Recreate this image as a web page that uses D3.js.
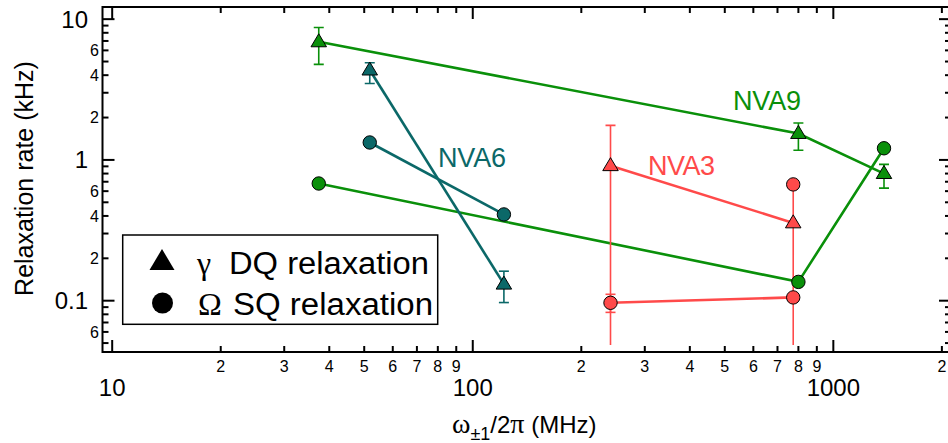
<!DOCTYPE html>
<html>
<head>
<meta charset="utf-8">
<script src="https://cdn.jsdelivr.net/npm/d3@7"></script>
<style>
  html, body { margin: 0; padding: 0; background: #fff; }
  svg { display: block; }
  text { font-family: "Liberation Sans", Arial, Helvetica, sans-serif; fill: #000; }
  .serif { font-family: "Liberation Serif", "Times New Roman", serif; }
</style>
</head>
<body>
<script>
// ---------------- data ----------------
const seriesNames = ["NVA9", "NVA6", "NVA3"];
const seriesColors = ["#0a900a", "#0b6868", "#ff4a4a"];

// frequency (MHz)
const freqNVA9 = [37.4, 800, 1382];
const freqNVA6 = [51.8, 122];
const freqNVA3 = [241, 774];

// gamma (DQ) rates, kHz, with error bounds
const gammaNVA9 = [6.9, 1.54, 0.80];
const gammaLoNVA9 = [4.77, 1.17, 0.63];
const gammaHiNVA9 = [8.73, 1.83, 0.93];
const gammaNVA6 = [4.35, 0.131];
const gammaLoNVA6 = [3.49, 0.097];
const gammaHiNVA6 = [4.9, 0.162];
const gammaNVA3 = [0.91, 0.357];
const gammaLoNVA3 = [0.03, 0.03];
const gammaHiNVA3 = [1.76, 0.67];

// Omega (SQ) rates, kHz
const omegaNVA9 = [0.68, 0.136, 1.21];
const omegaNVA6 = [1.33, 0.41];
const omegaNVA3 = [0.0966, 0.1055];
const omegaLoNVA3 = [0.0826, null];
const omegaHiNVA3 = [0.111, null];
// extra unconnected Omega point for NVA3
const omegaExtraFreqNVA3 = [774];
const omegaExtraNVA3 = [0.67];

// axis ticks
const xMajorTicks = [10, 100, 1000];
const xMinorTicks = [20, 30, 40, 50, 60, 70, 80, 90, 200, 300, 400, 500, 600, 700, 800, 900, 2000];
const xMinorLabels = ["2", "3", "4", "5", "6", "7", "8", "9", "2", "3", "4", "5", "6", "7", "8", "9", "2"];
const yMajorTicks = [0.1, 1, 10];
const yMajorLabels = ["0.1", "1", "10"];
const yMinorTicks = [0.05, 0.06, 0.07, 0.08, 0.09, 0.2, 0.3, 0.4, 0.5, 0.6, 0.7, 0.8, 0.9, 2, 3, 4, 5, 6, 7, 8, 9];
const yLabeledMinor = [0.06, 0.2, 0.4, 0.6, 2, 4, 6];
const yMinorLabelText = ["6", "2", "4", "6", "2", "4", "6"];

const legendSymbols = ["γ", "Ω"];
const legendTexts = ["DQ relaxation", "SQ relaxation"];
const xTitleParts = ["ω", "±1", "/2", "π", " (MHz)"];
const yTitle = "Relaxation rate (kHz)";

// ---------------- build series ----------------
function mk(freq, val, lo, hi) {
  return freq.map((f, i) => ({ f, v: val[i], lo: lo ? lo[i] : null, hi: hi ? hi[i] : null }));
}
const series = [
  { name: "NVA9", color: seriesColors[0],
    gamma: mk(freqNVA9, gammaNVA9, gammaLoNVA9, gammaHiNVA9),
    omega: mk(freqNVA9, omegaNVA9), extra: [] },
  { name: "NVA6", color: seriesColors[1],
    gamma: mk(freqNVA6, gammaNVA6, gammaLoNVA6, gammaHiNVA6),
    omega: mk(freqNVA6, omegaNVA6), extra: [] },
  { name: "NVA3", color: seriesColors[2],
    gamma: mk(freqNVA3, gammaNVA3, gammaLoNVA3, gammaHiNVA3),
    omega: mk(freqNVA3, omegaNVA3, omegaLoNVA3, omegaHiNVA3),
    extra: mk(omegaExtraFreqNVA3, omegaExtraNVA3) }
];

// ---------------- layout ----------------
const W = 948, H = 443;
const L = 102.5, R = 951, T = 7, B = 352;

const x = d3.scaleLog().domain([9.4, 2120]).range([L, R]);
const y = d3.scaleLog().domain([0.0432, 12.2]).range([B, T]);

const svg = d3.select("body").append("svg").attr("width", W).attr("height", H);

svg.append("defs").append("clipPath").attr("id", "plotclip")
  .append("rect").attr("x", L).attr("y", T).attr("width", R - L).attr("height", B - T);
svg.select("defs").append("clipPath").attr("id", "errclip")
  .append("rect").attr("x", L).attr("y", T).attr("width", R - L).attr("height", B - T - 7);

const plot = svg.append("g").attr("clip-path", "url(#plotclip)");

// lines
const line = d3.line().x(d => x(d.f)).y(d => y(d.v));
series.forEach(s => {
  ["gamma", "omega"].forEach(k => {
    plot.append("path").datum(s[k]).attr("d", line)
      .attr("fill", "none").attr("stroke", s.color).attr("stroke-width", 2.6);
  });
});

// error bars
const errG = svg.append("g").attr("clip-path", "url(#errclip)");
const capW = 5;
series.forEach(s => {
  ["gamma", "omega"].forEach(k => {
    s[k].filter(d => d.lo != null && d.hi != null).forEach(d => {
      const g = errG.append("g").attr("stroke", s.color).attr("stroke-width", 1.6);
      g.append("line").attr("x1", x(d.f)).attr("x2", x(d.f)).attr("y1", y(d.lo)).attr("y2", y(d.hi));
      g.append("line").attr("x1", x(d.f) - capW).attr("x2", x(d.f) + capW).attr("y1", y(d.hi)).attr("y2", y(d.hi));
      g.append("line").attr("x1", x(d.f) - capW).attr("x2", x(d.f) + capW).attr("y1", y(d.lo)).attr("y2", y(d.lo));
    });
  });
});

// markers
function triPath(cx, cy, w, h) {
  return `M${cx},${cy - h * 0.62}L${cx + w / 2},${cy + h * 0.38}L${cx - w / 2},${cy + h * 0.38}Z`;
}
series.forEach(s => {
  s.omega.concat(s.extra).forEach(d => {
    svg.append("circle").attr("cx", x(d.f)).attr("cy", y(d.v)).attr("r", 6.7)
      .attr("fill", s.color).attr("stroke", "#000").attr("stroke-width", 1);
  });
  s.gamma.forEach(d => {
    svg.append("path").attr("d", triPath(x(d.f), y(d.v), 15.5, 13))
      .attr("fill", s.color).attr("stroke", "#000").attr("stroke-width", 1);
  });
});

// series labels
const labelPos = { NVA9: [733, 110], NVA6: [438, 166.5], NVA3: [648, 175] };
series.forEach(s => {
  svg.append("text").attr("x", labelPos[s.name][0]).attr("y", labelPos[s.name][1])
    .attr("font-size", 27).attr("fill", s.color).style("fill", s.color)
    .attr("textLength", s.name === "NVA3" ? 67 : 68)
    .text(s.name);
});

// ---------------- axes / frame ----------------
const axG = svg.append("g").attr("stroke", "#000").attr("stroke-width", 2);
axG.append("rect").attr("x", L).attr("y", T).attr("width", R - L).attr("height", B - T).attr("fill", "none");
const MAJ = 12, MIN = 6;
xMajorTicks.forEach(v => {
  axG.append("line").attr("x1", x(v)).attr("x2", x(v)).attr("y1", B).attr("y2", B - MAJ);
  axG.append("line").attr("x1", x(v)).attr("x2", x(v)).attr("y1", T).attr("y2", T + MAJ);
});
xMinorTicks.forEach(v => {
  axG.append("line").attr("x1", x(v)).attr("x2", x(v)).attr("y1", B).attr("y2", B - MIN);
  axG.append("line").attr("x1", x(v)).attr("x2", x(v)).attr("y1", T).attr("y2", T + MIN);
});
yMajorTicks.forEach(v => {
  axG.append("line").attr("y1", y(v)).attr("y2", y(v)).attr("x1", L).attr("x2", L + MAJ);
  axG.append("line").attr("y1", y(v)).attr("y2", y(v)).attr("x1", R).attr("x2", R - MAJ);
});
yMinorTicks.forEach(v => {
  axG.append("line").attr("y1", y(v)).attr("y2", y(v)).attr("x1", L).attr("x2", L + MIN);
  axG.append("line").attr("y1", y(v)).attr("y2", y(v)).attr("x1", R).attr("x2", R - MIN);
});

// tick labels
xMinorTicks.forEach((v, i) => {
  svg.append("text").attr("x", x(v)).attr("y", 372).attr("text-anchor", "middle")
    .attr("font-size", 16).text(xMinorLabels[i]);
});
xMajorTicks.forEach(v => {
  svg.append("text").attr("x", x(v)).attr("y", 396).attr("text-anchor", "middle")
    .attr("font-size", 24).text(String(v));
});
yMajorTicks.forEach((v, i) => {
  svg.append("text").attr("x", 88).attr("y", y(v)).attr("dy", "0.35em").attr("text-anchor", "end")
    .attr("font-size", 24).text(yMajorLabels[i]);
});
yLabeledMinor.forEach((v, i) => {
  svg.append("text").attr("x", 99).attr("y", y(v)).attr("dy", "0.36em").attr("text-anchor", "end")
    .attr("font-size", 16).text(yMinorLabelText[i]);
});

// axis titles
svg.append("text").attr("transform", "translate(33,178.5) rotate(-90)")
  .attr("text-anchor", "middle").attr("font-size", 25).text(yTitle);

const xt = svg.append("text").attr("x", 452).attr("y", 433).attr("font-size", 24);
xt.append("tspan").attr("class", "serif").attr("font-size", 28).text(xTitleParts[0]);
xt.append("tspan").attr("font-size", 18).attr("dy", 7).text(xTitleParts[1]);
xt.append("tspan").attr("dy", -7).text(xTitleParts[2]);
xt.append("tspan").attr("class", "serif").attr("font-size", 28).text(xTitleParts[3]);
xt.append("tspan").text(xTitleParts[4]);

// ---------------- legend ----------------
const lg = svg.append("g");
lg.append("rect").attr("x", 122.7).attr("y", 235).attr("width", 315).attr("height", 89.3)
  .attr("fill", "#fff").attr("stroke", "#000").attr("stroke-width", 1.5);
const rowY = [262, 303];
lg.append("path").attr("d", triPath(162, rowY[0], 25, 21)).attr("fill", "#000");
lg.append("circle").attr("cx", 162.5).attr("cy", rowY[1]).attr("r", 10.5).attr("fill", "#000");
const symX = [197, 198];
const txtX = [229, 233];
legendSymbols.forEach((sym, i) => {
  lg.append("text").attr("class", "serif").attr("x", symX[i]).attr("y", rowY[i] + 11.5)
    .attr("font-size", 32).text(sym);
  lg.append("text").attr("x", txtX[i]).attr("y", rowY[i] + 11.5)
    .attr("font-size", 31).attr("textLength", 200).attr("lengthAdjust", "spacingAndGlyphs")
    .text(legendTexts[i]);
});
</script>
</body>
</html>
